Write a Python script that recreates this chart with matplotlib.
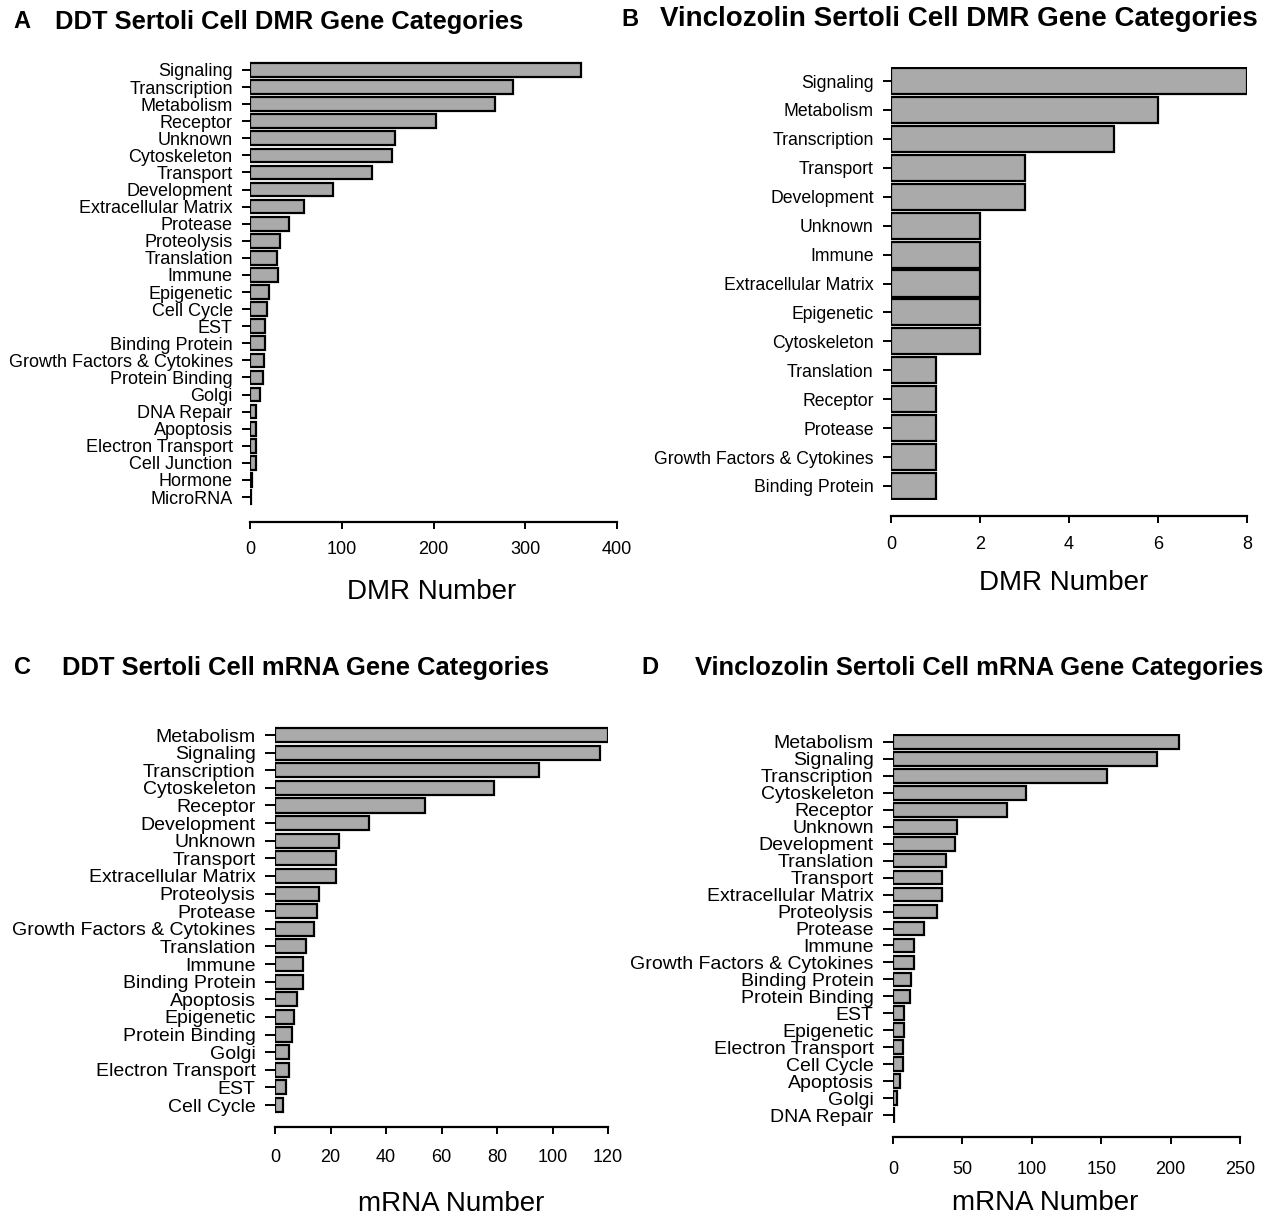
import matplotlib
matplotlib.use("Agg")
import matplotlib.pyplot as plt

plt.rcParams['font.family'] = ['Liberation Sans', 'DejaVu Sans']

# panel A: DDT DMR categories
ddt_dmr_cats = ['Signaling', 'Transcription', 'Metabolism', 'Receptor', 'Unknown',
                'Cytoskeleton', 'Transport', 'Development', 'Extracellular Matrix',
                'Protease', 'Proteolysis', 'Translation', 'Immune', 'Epigenetic',
                'Cell Cycle', 'EST', 'Binding Protein', 'Growth Factors & Cytokines',
                'Protein Binding', 'Golgi', 'DNA Repair', 'Apoptosis',
                'Electron Transport', 'Cell Junction', 'Hormone', 'MicroRNA']
ddt_dmr_vals = [361, 287, 267, 203, 158, 155, 133, 90, 59, 42, 33, 29, 30, 21,
                18, 16, 16, 15, 14, 11, 7, 7, 6, 6, 2, 1]

# panel B: vinclozolin DMR categories
vin_dmr_cats = ['Signaling', 'Metabolism', 'Transcription', 'Transport', 'Development',
                'Unknown', 'Immune', 'Extracellular Matrix', 'Epigenetic',
                'Cytoskeleton', 'Translation', 'Receptor', 'Protease',
                'Growth Factors & Cytokines', 'Binding Protein']
vin_dmr_vals = [8, 6, 5, 3, 3, 2, 2, 2, 2, 2, 1, 1, 1, 1, 1]

# panel C: DDT mRNA categories
ddt_mrna_cats = ['Metabolism', 'Signaling', 'Transcription', 'Cytoskeleton', 'Receptor',
                 'Development', 'Unknown', 'Transport', 'Extracellular Matrix',
                 'Proteolysis', 'Protease', 'Growth Factors & Cytokines', 'Translation',
                 'Immune', 'Binding Protein', 'Apoptosis', 'Epigenetic',
                 'Protein Binding', 'Golgi', 'Electron Transport', 'EST', 'Cell Cycle']
ddt_mrna_vals = [120, 117, 95, 79, 54, 34, 23, 22, 22, 16, 15, 14, 11, 10, 10,
                 8, 7, 6, 5, 5, 4, 3]

# panel D: vinclozolin mRNA categories
vin_mrna_cats = ['Metabolism', 'Signaling', 'Transcription', 'Cytoskeleton', 'Receptor',
                 'Unknown', 'Development', 'Translation', 'Transport',
                 'Extracellular Matrix', 'Proteolysis', 'Protease', 'Immune',
                 'Growth Factors & Cytokines', 'Binding Protein', 'Protein Binding',
                 'EST', 'Epigenetic', 'Electron Transport', 'Cell Cycle', 'Apoptosis',
                 'Golgi', 'DNA Repair']
vin_mrna_vals = [206, 190, 154, 96, 82, 46, 45, 38, 35, 35, 32, 22, 15, 15, 13,
                 12, 8, 8, 7, 7, 5, 3, 1]

W, H = 1271, 1217
fig = plt.figure(figsize=(W / 100, H / 100), dpi=100)


def panel(cats, vals, xmax, xticks, xlabel, x0, x1, ytop, ybot, axis_y,
          lab_size, ytick_len, ypad, xpad, xlabpad, xlab_x, bar_h,
          letter, title, title_size, letter_x, title_x, title_y):
    n = len(cats)
    sp = (ybot - ytop) / (n - 1)
    top = ytop - sp / 2
    bot = ybot + sp / 2
    ax = fig.add_axes([x0 / W, 1 - bot / H, (x1 - x0) / W, (bot - top) / H])
    ax.barh(range(n), vals, height=bar_h, color='#aaaaaa', edgecolor='black',
            linewidth=1.6)
    ax.set_ylim(n - 0.5, -0.5)
    ax.set_xlim(0, xmax)
    for s in ['top', 'right', 'left']:
        ax.spines[s].set_visible(False)
    ax.spines['bottom'].set_position(('outward', (axis_y - bot) * 0.72))
    ax.spines['bottom'].set_bounds(0, xmax)
    ax.spines['bottom'].set_linewidth(1.6)
    ax.set_yticks(range(n))
    ax.set_yticklabels(cats, fontsize=lab_size)
    ax.tick_params(axis='y', length=ytick_len, width=1.4, pad=ypad)
    ax.set_xticks(xticks)
    ax.tick_params(axis='x', length=5, width=1.4, pad=xpad, labelsize=13)
    ax.set_xlabel(xlabel, fontsize=20, labelpad=xlabpad)
    ax.xaxis.label.set_x(xlab_x)
    fig.text(letter_x / W, 1 - title_y / H, letter, fontsize=17, fontweight='bold',
             ha='center', va='center')
    fig.text(title_x / W, 1 - title_y / H, title, fontsize=title_size,
             fontweight='bold', ha='left', va='center')
    return ax


panel(ddt_dmr_cats, ddt_dmr_vals, 400, [0, 100, 200, 300, 400], 'DMR Number',
      250, 617, 70, 497, 522, 13, 6, 6.5, 9, 15, 0.495, 0.8,
      'A', 'DDT Sertoli Cell DMR Gene Categories', 18.4, 22, 55, 22)
panel(vin_dmr_cats, vin_dmr_vals, 8, [0, 2, 4, 6, 8], 'DMR Number',
      891, 1247, 81, 486, 516, 12.7, 6, 6.5, 9.5, 12, 0.486, 0.9,
      'B', 'Vinclozolin Sertoli Cell DMR Gene Categories', 20, 630, 660, 19)
panel(ddt_mrna_cats, ddt_mrna_vals, 120, [0, 20, 40, 60, 80, 100, 120], 'mRNA Number',
      275, 608, 735, 1105, 1127, 14, 7, 7, 11, 18, 0.53, 0.8,
      'C', 'DDT Sertoli Cell mRNA Gene Categories', 18.4, 22, 62, 668)
panel(vin_mrna_cats, vin_mrna_vals, 250, [0, 50, 100, 150, 200, 250], 'mRNA Number',
      893, 1240, 742, 1115, 1137, 14, 7, 7, 12.5, 8.5, 0.44, 0.8,
      'D', 'Vinclozolin Sertoli Cell mRNA Gene Categories', 18.4, 650, 695, 668)

fig.savefig('out.png', dpi=100)
